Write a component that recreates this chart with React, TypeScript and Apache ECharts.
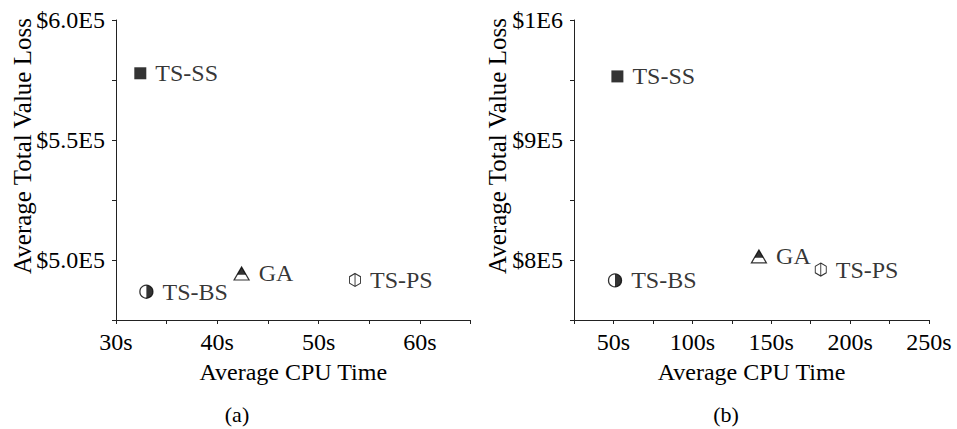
import React, { useEffect, useRef } from "react";
import * as echarts from "echarts";

const methods = ["TS-SS", "TS-BS", "GA", "TS-PS"];
const cpuTimeA = [32.4, 33.0, 42.4, 53.6];
const valueLossA = [577800, 486800, 494400, 491700];
const cpuTimeB = [52.5, 51.0, 142.2, 181.4];
const valueLossB = [953000, 783000, 803000, 792000];

const timeTicksA = [30, 40, 50, 60];
const timeTickLabelsA = ["30s", "40s", "50s", "60s"];
const lossTicksA = [500000, 550000, 600000];
const lossTickLabelsA = ["$5.0E5", "$5.5E5", "$6.0E5"];
const timeTicksB = [50, 100, 150, 200, 250];
const timeTickLabelsB = ["50s", "100s", "150s", "200s", "250s"];
const lossTicksB = [800000, 900000, 1000000];
const lossTickLabelsB = ["$8E5", "$9E5", "$1E6"];

const xTitle = "Average CPU Time";
const yTitle = "Average Total Value Loss";
const captions = ["(a)", "(b)"];

const FONT = "'Liberation Serif', 'Times New Roman', serif";
const AXIS_COLOR = "#222";

const HEX =
  "path://M0,-10 L8.66,-5 L8.66,5 L0,10 L-8.66,5 L-8.66,-5 Z M0,-10 L0,10";
const HALF_DISC = "path://M0,0 A10,10 0 0,1 0,20 Z";

function lookup(ticks: number[], labels: string[]) {
  return (v: number) => {
    const i = ticks.findIndex((t) => Math.abs(t - v) < 1e-6 * Math.max(1, Math.abs(t)));
    return i >= 0 ? labels[i] : "";
  };
}

function makeSeries(idx: number, xs: number[], ys: number[]) {
  const labelFor = (i: number) => ({
    show: true,
    position: "right" as const,
    distance: 9,
    formatter: () => methods[i],
    fontSize: 24,
    fontFamily: FONT,
    color: "#000",
  });
  const base = {
    type: "scatter",
    xAxisIndex: idx,
    yAxisIndex: idx,
    silent: true,
  };
  const pt = (i: number) => [[xs[i], ys[i]]];
  return [
    {
      ...base,
      name: methods[0],
      data: pt(0),
      symbol: "rect",
      symbolSize: 12,
      itemStyle: { color: "#000" },
      label: labelFor(0),
    },
    {
      ...base,
      name: methods[1],
      data: pt(1),
      symbol: "circle",
      symbolSize: 13,
      itemStyle: { color: "#fff", borderColor: "#000", borderWidth: 1.3 },
      label: labelFor(1),
    },
    {
      ...base,
      name: methods[1] + " fill",
      data: pt(1),
      symbol: HALF_DISC,
      symbolSize: [6.5, 13],
      symbolOffset: [3.25, 0],
      itemStyle: { color: "#000" },
    },
    {
      ...base,
      name: methods[2],
      data: pt(2),
      symbol: "triangle",
      symbolSize: [15, 13],
      itemStyle: { color: "#fff", borderColor: "#000", borderWidth: 1.2 },
      label: labelFor(2),
    },
    {
      ...base,
      name: methods[2] + " fill",
      data: pt(2),
      symbol: "triangle",
      symbolSize: [9, 7.8],
      symbolOffset: [0, -2.6],
      itemStyle: { color: "#000" },
    },
    {
      ...base,
      name: methods[3],
      data: pt(3),
      symbol: HEX,
      symbolSize: [11, 13],
      itemStyle: { color: "#fff", borderColor: "#000", borderWidth: 1 },
      label: labelFor(3),
    },
  ];
}

function xAxisCfg(idx: number, min: number, max: number, interval: number, ticks: number[], labels: string[]) {
  return {
    type: "value",
    gridIndex: idx,
    min,
    max,
    interval,
    name: xTitle,
    nameLocation: "middle",
    nameGap: 40,
    nameTextStyle: { fontSize: 24, fontFamily: FONT, color: "#000" },
    axisLine: { show: true, onZero: false, lineStyle: { color: AXIS_COLOR, width: 1 } },
    axisTick: { show: true, inside: false, length: 4, lineStyle: { color: AXIS_COLOR } },
    axisLabel: {
      margin: 10,
      fontSize: 24,
      fontFamily: FONT,
      color: "#000",
      formatter: lookup(ticks, labels),
    },
    splitLine: { show: false },
  };
}

function yAxisCfg(idx: number, min: number, max: number, interval: number, ticks: number[], labels: string[]) {
  return {
    type: "value",
    gridIndex: idx,
    min,
    max,
    interval,
    axisLine: { show: true, onZero: false, lineStyle: { color: AXIS_COLOR, width: 1 } },
    axisTick: { show: true, inside: false, length: 4, lineStyle: { color: AXIS_COLOR } },
    axisLabel: {
      margin: 11,
      fontSize: 24,
      fontFamily: FONT,
      color: "#000",
      formatter: lookup(ticks, labels),
    },
    splitLine: { show: false },
  };
}

function rotatedTitle(x: number) {
  return {
    type: "text",
    x,
    y: 146,
    rotation: Math.PI / 2,
    style: {
      text: yTitle,
      fontSize: 25,
      fontFamily: FONT,
      fill: "#000",
      textAlign: "center",
      textVerticalAlign: "middle",
    },
  };
}

function caption(x: number, text: string) {
  return {
    type: "text",
    x,
    y: 414,
    style: {
      text,
      fontSize: 22,
      fontFamily: FONT,
      fill: "#000",
      textAlign: "center",
      textVerticalAlign: "middle",
    },
  };
}

export default function App() {
  const ref = useRef<HTMLDivElement>(null);
  useEffect(() => {
    document.body.style.margin = "0";
    if (!ref.current) return;
    const chart = echarts.init(ref.current, undefined, { renderer: "svg" });
    chart.setOption({
      animation: false,
      backgroundColor: "#fff",
      grid: [
        { left: 116, top: 20, width: 354.5, height: 300 },
        { left: 574, top: 20, width: 355, height: 300 },
      ],
      xAxis: [
        xAxisCfg(0, 30, 65, 5, timeTicksA, timeTickLabelsA),
        xAxisCfg(1, 25, 250, 25, timeTicksB, timeTickLabelsB),
      ],
      yAxis: [
        yAxisCfg(0, 475000, 600000, 25000, lossTicksA, lossTickLabelsA),
        yAxisCfg(1, 750000, 1000000, 50000, lossTicksB, lossTickLabelsB),
      ],
      graphic: [
        rotatedTitle(22),
        rotatedTitle(497),
        caption(237, captions[0]),
        caption(726, captions[1]),
      ],
      series: [
        ...makeSeries(0, cpuTimeA, valueLossA),
        ...makeSeries(1, cpuTimeB, valueLossB),
      ],
    });
    return () => chart.dispose();
  }, []);
  return <div ref={ref} style={{ width: 957, height: 429 }} />;
}
